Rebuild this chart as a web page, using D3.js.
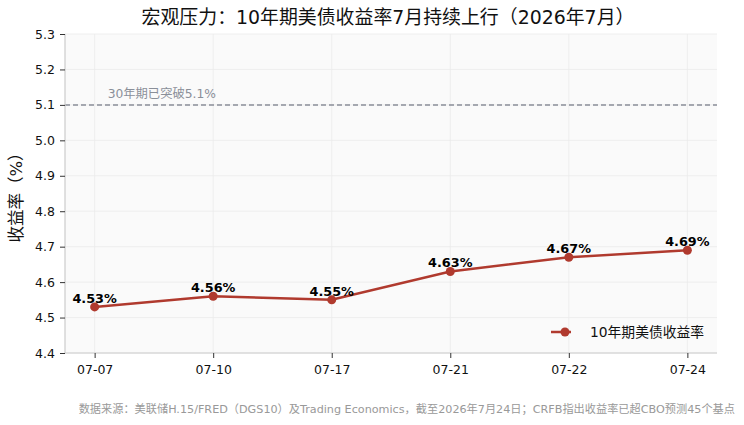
<!DOCTYPE html>
<html>
<head>
<meta charset="utf-8">
<script src="https://cdn.jsdelivr.net/npm/d3@7"></script>
<style>
  body { margin: 0; background: #fff; }
  svg { display: block; font-family: "DejaVu Sans", "Noto Sans CJK SC", sans-serif; }
</style>
</head>
<body>
<div id="chart"></div>
<script>
// data
var dates = ["07-07", "07-10", "07-17", "07-21", "07-22", "07-24"];
var yields = [4.53, 4.56, 4.55, 4.63, 4.67, 4.69];
var yTicks = [4.4, 4.5, 4.6, 4.7, 4.8, 4.9, 5.0, 5.1, 5.2, 5.3];
var refLevel = 5.1;

var title = "宏观压力：10年期美债收益率7月持续上行（2026年7月）";
var yLabel = "收益率（%）";
var refLabel = "30年期已突破5.1%";
var seriesName = "10年期美债收益率";
var source = "数据来源：美联储H.15/FRED（DGS10）及Trading Economics，截至2026年7月24日；CRFB指出收益率已超CBO预测45个基点";

var W = 744, H = 425;
var margin = {top: 34, right: 27, bottom: 72, left: 65},
    width = W - margin.left - margin.right,
    height = H - margin.top - margin.bottom;

var lineColor = "#b03a2e";
var fam = "DejaVu Sans, Noto Sans CJK SC, sans-serif";

var svg = d3.select("#chart").append("svg")
    .attr("width", W)
    .attr("height", H);

var g = svg.append("g")
    .attr("transform", "translate(" + margin.left + "," + margin.top + ")");

var x = d3.scalePoint().domain(dates).range([0, width]).padding(0.25);
var y = d3.scaleLinear().domain([4.4, 5.3]).range([height, 0]);

// plot background
g.append("rect")
    .attr("width", width).attr("height", height)
    .attr("fill", "#fafafa");

// grid
g.selectAll(".hgrid").data(yTicks).enter().append("line")
    .attr("x1", 0).attr("x2", width)
    .attr("y1", function(d) { return y(d); })
    .attr("y2", function(d) { return y(d); })
    .attr("stroke", "#ebebeb").attr("stroke-width", 0.8);

g.selectAll(".vgrid").data(dates).enter().append("line")
    .attr("y1", 0).attr("y2", height)
    .attr("x1", function(d) { return x(d); })
    .attr("x2", function(d) { return x(d); })
    .attr("stroke", "#ebebeb").attr("stroke-width", 0.8);

// reference line at 5.1
g.append("line")
    .attr("x1", 0).attr("x2", width)
    .attr("y1", y(refLevel)).attr("y2", y(refLevel))
    .attr("stroke", "#8a8f99").attr("stroke-width", 1.5)
    .attr("stroke-dasharray", "5,3");

g.append("text")
    .attr("x", x(dates[0]) + 13)
    .attr("y", y(refLevel) - 7)
    .attr("font-size", 12.3)
    .attr("fill", "#8a8f99")
    .attr("font-family", fam)
    .text(refLabel);

// axes
var xAxis = d3.axisBottom(x).tickSize(5).tickPadding(7);
var yAxis = d3.axisLeft(y).tickValues(yTicks).tickFormat(d3.format(".1f")).tickSize(5).tickPadding(5);

var gx = g.append("g")
    .attr("transform", "translate(0," + height + ")")
    .call(xAxis);
var gy = g.append("g").call(yAxis);

[gx, gy].forEach(function(a) {
    a.select(".domain").attr("stroke", "#cccccc").attr("stroke-width", 1.2);
    a.selectAll(".tick line").attr("stroke", "#333");
    a.selectAll(".tick text").attr("font-size", 12.5).attr("fill", "#111")
        .attr("font-family", "DejaVu Sans, sans-serif");
});
gy.select(".domain").attr("d", "M0," + height + "V0");
gx.select(".domain").attr("d", "M0,0H" + width);

// the line
var pts = dates.map(function(d, i) { return {date: d, v: yields[i]}; });

var valueline = d3.line()
    .x(function(d) { return x(d.date); })
    .y(function(d) { return y(d.v); });

g.append("path")
    .datum(pts)
    .attr("d", valueline)
    .attr("fill", "none")
    .attr("stroke", lineColor)
    .attr("stroke-width", 2.5);

g.selectAll(".dot").data(pts).enter().append("circle")
    .attr("cx", function(d) { return x(d.date); })
    .attr("cy", function(d) { return y(d.v); })
    .attr("r", 4.5)
    .attr("fill", lineColor);

g.selectAll(".lbl").data(pts).enter().append("text")
    .attr("x", function(d) { return x(d.date); })
    .attr("y", function(d) { return y(d.v) - 4; })
    .attr("text-anchor", "middle")
    .attr("font-size", 12.8)
    .attr("font-weight", "bold")
    .attr("fill", "#000")
    .attr("font-family", "DejaVu Sans, sans-serif")
    .text(function(d) { return d.v.toFixed(2) + "%"; });

// legend
var lg = g.append("g").attr("transform", "translate(" + (width - 166) + "," + (height - 21) + ")");
lg.append("line").attr("x1", 0).attr("x2", 20).attr("y1", 0).attr("y2", 0)
    .attr("stroke", lineColor).attr("stroke-width", 2.5);
lg.append("circle").attr("cx", 14).attr("cy", 0).attr("r", 4.5).attr("fill", lineColor);
lg.append("text").attr("x", 39).attr("y", 0).attr("dy", "0.35em")
    .attr("font-size", 13.8).attr("fill", "#111")
    .attr("font-family", fam)
    .text(seriesName);

// title, y label, source
svg.append("text")
    .attr("x", 388).attr("y", 24)
    .attr("text-anchor", "middle")
    .attr("font-size", 18.9)
    .attr("font-family", fam)
    .attr("fill", "#111")
    .text(title);

svg.append("text")
    .attr("transform", "translate(22," + (margin.top + y(4.85)) + ") rotate(-90)")
    .attr("text-anchor", "middle")
    .attr("font-size", 16.5)
    .attr("font-family", fam)
    .attr("fill", "#111")
    .text(yLabel);

svg.append("text")
    .attr("x", 735).attr("y", 413)
    .attr("text-anchor", "end")
    .attr("font-size", 11.2)
    .attr("font-family", fam)
    .attr("fill", "#999")
    .text(source);
</script>
</body>
</html>
